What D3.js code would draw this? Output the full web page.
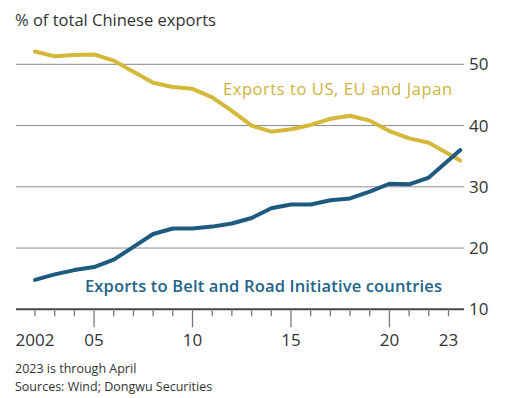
<!DOCTYPE html>
<meta charset="utf-8">
<style>

body {
  margin: 0;
  background: #fff;
}

text {
  font-family: "Open Sans", "Noto Sans", sans-serif;
  fill: #333;
}

.grid line {
  stroke: #8a8a8a;
  stroke-width: 1px;
}

.tick-label {
  font-size: 17px;
}

.series {
  fill: none;
  stroke-width: 4px;
  stroke-linejoin: round;
  stroke-linecap: round;
}

.note {
  font-size: 12.5px;
}

</style>
<svg width="505" height="398"></svg>
<script src="https://d3js.org/d3.v7.min.js"></script>
<script>

// annual shares, 2023 is through April (plotted a little past the tick)
var years = [2002, 2003, 2004, 2005, 2006, 2007, 2008, 2009, 2010, 2011, 2012,
             2013, 2014, 2015, 2016, 2017, 2018, 2019, 2020, 2021, 2022, 2023.6];

var usEuJapan = [52.1, 51.3, 51.5, 51.6, 50.6, 48.8, 47.0, 46.3, 46.0, 44.6, 42.4,
                 40.0, 39.0, 39.4, 40.1, 41.1, 41.6, 40.8, 39.1, 37.9, 37.2, 34.3];

var beltRoad = [14.8, 15.7, 16.4, 16.9, 18.1, 20.2, 22.3, 23.2, 23.2, 23.5, 24.0,
                24.9, 26.5, 27.1, 27.1, 27.8, 28.1, 29.2, 30.5, 30.4, 31.5, 36.0];

var yTicks = [10, 20, 30, 40, 50];
var xMajor = [2002, 2005, 2010, 2015, 2020, 2023];
var xLabels = ["2002", "05", "10", "15", "20", "23"];

var svg = d3.select("svg");

var x = d3.scaleLinear().domain([2002, 2023]).range([35, 448.5]),
    y = d3.scaleLinear().domain([10, 50]).range([309.3, 64.3]);

var gridLeft = 16, gridRight = 464;

// subtitle
svg.append("text")
    .attr("x", 15)
    .attr("y", 26)
    .style("font-size", "16.5px")
    .text("% of total Chinese exports");

// horizontal gridlines + right-hand labels
var grid = svg.append("g").attr("class", "grid");

grid.selectAll("line")
  .data(yTicks)
  .enter().append("line")
    .attr("x1", gridLeft)
    .attr("x2", gridRight)
    .attr("y1", function(d) { return y(d); })
    .attr("y2", function(d) { return y(d); })
    .style("stroke", function(d) { return d === 10 ? "#444" : null; })
    .style("stroke-width", function(d) { return d === 10 ? "2px" : null; });

svg.selectAll(".y-label")
  .data(yTicks)
  .enter().append("text")
    .attr("class", "tick-label y-label")
    .attr("x", 469)
    .attr("y", function(d) { return y(d); })
    .attr("dy", "0.36em")
    .text(function(d) { return d; });

// x ticks: one per year, longer ones at the labelled years
svg.append("g")
  .selectAll("line")
  .data(d3.range(2002, 2024))
  .enter().append("line")
    .attr("x1", function(d) { return x(d); })
    .attr("x2", function(d) { return x(d); })
    .attr("y1", y(10))
    .attr("y2", function(d) { return xMajor.indexOf(d) >= 0 && d !== 2002 && d !== 2023 ? y(10) + 18 : y(10) + 7; })
    .style("stroke", "#777")
    .style("stroke-width", "1.3px");

svg.selectAll(".x-label")
  .data(xMajor)
  .enter().append("text")
    .attr("class", "tick-label x-label")
    .attr("x", function(d) { return x(d); })
    .attr("y", 346)
    .attr("text-anchor", "middle")
    .text(function(d, i) { return xLabels[i]; });

// series
var line = d3.line()
    .x(function(d) { return x(d[0]); })
    .y(function(d) { return y(d[1]); });

svg.append("path")
    .datum(d3.zip(years, usEuJapan))
    .attr("class", "series")
    .style("stroke", "#d4b83a")
    .attr("d", line);

svg.append("path")
    .datum(d3.zip(years, beltRoad))
    .attr("class", "series")
    .style("stroke", "#1d5a7f")
    .attr("d", line);

// direct labels
svg.append("text")
    .attr("x", 223)
    .attr("y", 95)
    .attr("textLength", 229)
    .attr("lengthAdjust", "spacing")
    .style("font-size", "16.5px")
    .style("font-weight", 500)
    .style("fill", "#cdb43e")
    .text("Exports to US, EU and Japan");

svg.append("text")
    .attr("x", 85)
    .attr("y", 291.5)
    .attr("textLength", 357)
    .attr("lengthAdjust", "spacing")
    .style("font-size", "16.5px")
    .style("font-weight", 600)
    .style("fill", "#22638a")
    .text("Exports to Belt and Road Initiative countries");

// notes
svg.append("text")
    .attr("class", "note")
    .attr("x", 15)
    .attr("y", 373)
    .text("2023 is through April");

svg.append("text")
    .attr("class", "note")
    .attr("x", 15)
    .attr("y", 390.5)
    .text("Sources: Wind; Dongwu Securities");

</script>
